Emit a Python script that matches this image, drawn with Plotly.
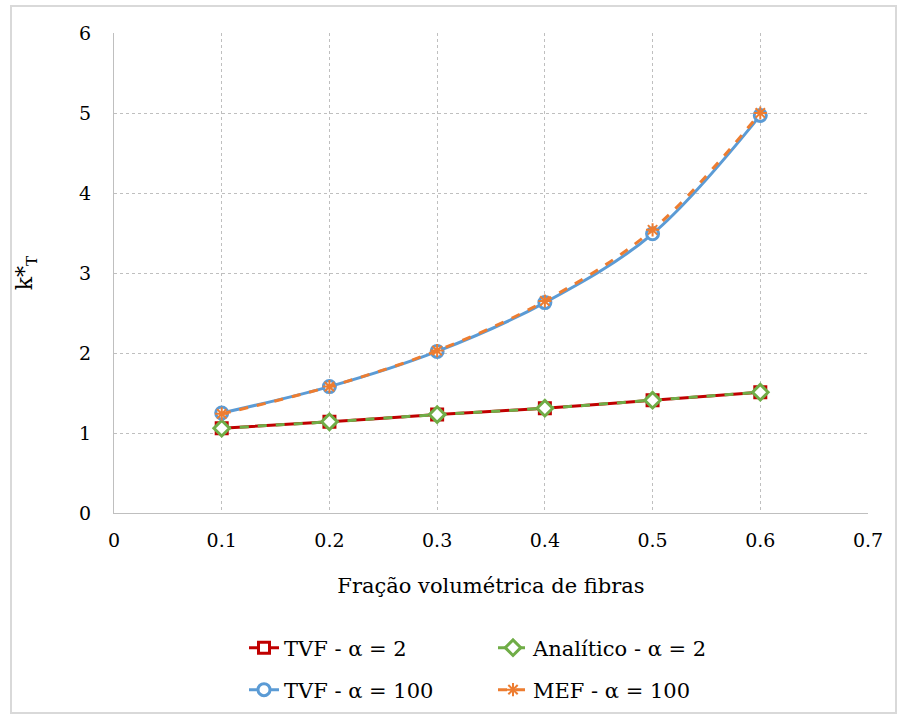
import plotly.graph_objects as go

x_vals = [0.1, 0.2, 0.3, 0.4, 0.5, 0.6]
tvf_a2 = [1.06, 1.14, 1.23, 1.31, 1.41, 1.51]
anal_a2 = [1.06, 1.14, 1.23, 1.31, 1.41, 1.51]
tvf_a100 = [1.25, 1.58, 2.02, 2.63, 3.49, 4.97]
mef_a100 = [1.24, 1.58, 2.03, 2.65, 3.54, 5.00]

x_ticks = [0, 0.1, 0.2, 0.3, 0.4, 0.5, 0.6, 0.7]
x_ticktext = ["0", "0.1", "0.2", "0.3", "0.4", "0.5", "0.6", "0.7"]

names = ["TVF - α = 2", "Analítico - α = 2", "TVF - α = 100", "MEF - α = 100"]
colors = ["#C00000", "#70AD47", "#5B9BD5", "#ED7D31"]

font_family = "DejaVu Serif"

fig = go.Figure()
fig.add_trace(go.Scatter(x=x_vals, y=tvf_a2, name=names[0], mode="lines+markers", legend="legend",
                         line=dict(color=colors[0], width=3, shape="spline"),
                         marker=dict(symbol="square", size=11, color="white",
                                     line=dict(color=colors[0], width=3))))
fig.add_trace(go.Scatter(x=x_vals, y=anal_a2, name=names[1], mode="lines+markers", legend="legend",
                         line=dict(color=colors[1], width=3, dash="dash", shape="spline"),
                         marker=dict(symbol="diamond", size=12, color="white",
                                     line=dict(color=colors[1], width=3))))
fig.add_trace(go.Scatter(x=x_vals, y=tvf_a100, name=names[2], mode="lines+markers", legend="legend2",
                         line=dict(color=colors[2], width=3, shape="spline"),
                         marker=dict(symbol="circle", size=12, color="white",
                                     line=dict(color=colors[2], width=3))))
fig.add_trace(go.Scatter(x=x_vals, y=mef_a100, name=names[3], mode="lines+markers", legend="legend2",
                         line=dict(color=colors[3], width=3, dash="dash", shape="spline"),
                         marker=dict(symbol="asterisk-open", size=11, color=colors[3],
                                     line=dict(color=colors[3], width=2))))

grid = dict(showgrid=True, gridcolor="#BFBFBF", griddash="dot", gridwidth=1)
leg_common = dict(orientation="h", xanchor="left", yanchor="middle",
                  x=(244 - 114) / 754, entrywidth=204,
                  font=dict(size=21, family=font_family), bgcolor="rgba(0,0,0,0)")

fig.update_layout(
    width=898, height=715,
    margin=dict(l=114, r=30, t=33, b=202, autoexpand=False),
    paper_bgcolor="white", plot_bgcolor="white",
    font=dict(family=font_family, size=19, color="black"),
    showlegend=True,
    legend=dict(**leg_common, y=(513 - 648) / 480),
    legend2=dict(**leg_common, y=(513 - 690) / 480),
    xaxis=dict(range=[0, 0.7], tickvals=x_ticks, ticktext=x_ticktext, **grid,
               showline=True, linecolor="#BFBFBF", ticks="", zeroline=False,
               ticklabelstandoff=10, automargin=False, tickfont=dict(size=19),
               title=dict(text="Fração volumétrica de fibras", standoff=28,
                          font=dict(size=21))),
    yaxis=dict(range=[0, 6], dtick=1, **grid,
               showline=True, linecolor="#BFBFBF", ticks="", zeroline=False,
               ticklabelstandoff=18, automargin=False, tickfont=dict(size=19),
               title=dict(text="k*<sub>T</sub>", standoff=40, font=dict(size=22))),
    shapes=[dict(type="rect", xref="paper", yref="paper",
                 x0=(11 - 114) / 754, x1=(896 - 114) / 754,
                 y0=(513 - 713) / 480, y1=(513 - 6) / 480,
                 line=dict(color="#D9D9D9", width=2), fillcolor="rgba(0,0,0,0)",
                 layer="below")],
)

fig.write_html("out.html")
